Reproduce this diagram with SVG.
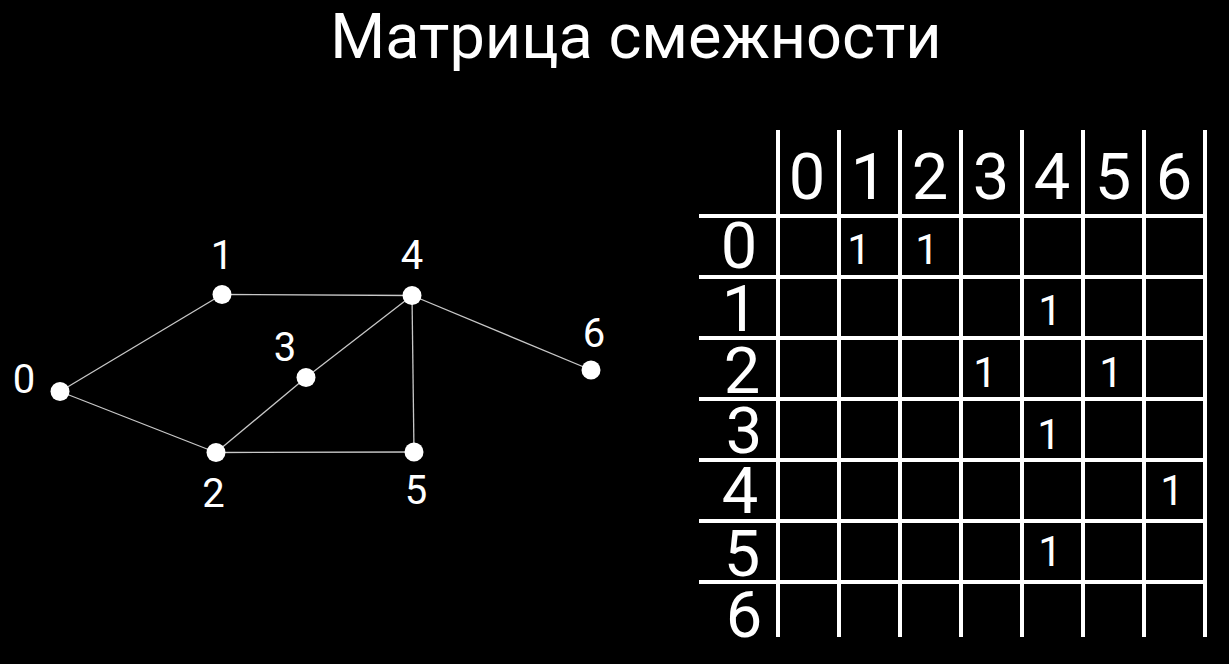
<svg xmlns="http://www.w3.org/2000/svg" width="1229" height="664" viewBox="0 0 1229 664">
<style>
text{font-family:Roboto,"Liberation Sans",sans-serif;fill:#fff}
.title{font-size:63px;text-anchor:middle}
.lbl{font-size:40px;text-anchor:middle}
.hd{font-size:65px;text-anchor:middle}
.one{font-size:42px;text-anchor:middle}
.edge{stroke:#c8c8c8;stroke-width:1.3;fill:none}
.grid{stroke:#fff;stroke-width:4;fill:none}
.node{fill:#fff}
</style>
<rect width="1229" height="664" fill="#000"/>
<text class="title" x="636" y="58">Матрица смежности</text>
<g id="connectors">
<line class="edge" x1="60" y1="391.5" x2="222" y2="294.5"/>
<line class="edge" x1="60" y1="391.5" x2="216" y2="452.5"/>
<line class="edge" x1="222" y1="294.5" x2="412" y2="295.5"/>
<line class="edge" x1="216" y1="452.5" x2="306" y2="377.5"/>
<line class="edge" x1="306" y1="377.5" x2="412" y2="295.5"/>
<line class="edge" x1="216" y1="452.5" x2="414" y2="452"/>
<line class="edge" x1="412" y1="295.5" x2="414" y2="452"/>
<line class="edge" x1="412" y1="295.5" x2="591" y2="370"/>
</g>
<g id="node0"><circle class="node" cx="60" cy="391.5" r="9.5"/><text class="lbl" x="24" y="393">0</text></g>
<g id="node1"><circle class="node" cx="222" cy="294.5" r="9.5"/><text class="lbl" x="222" y="269">1</text></g>
<g id="node2"><circle class="node" cx="216" cy="452.5" r="9.5"/><text class="lbl" x="213.5" y="507">2</text></g>
<g id="node3"><circle class="node" cx="306" cy="377.5" r="9.5"/><text class="lbl" x="285" y="361">3</text></g>
<g id="node4"><circle class="node" cx="412" cy="295.5" r="9.5"/><text class="lbl" x="412" y="269">4</text></g>
<g id="node5"><circle class="node" cx="414" cy="452" r="9.5"/><text class="lbl" x="416" y="504">5</text></g>
<g id="node6"><circle class="node" cx="591" cy="370" r="9.5"/><text class="lbl" x="594" y="347">6</text></g>
<g id="matrix">
<g class="grid">
<line x1="778" y1="130" x2="778" y2="637"/>
<line x1="839" y1="130" x2="839" y2="637"/>
<line x1="900" y1="130" x2="900" y2="637"/>
<line x1="961" y1="130" x2="961" y2="637"/>
<line x1="1022" y1="130" x2="1022" y2="637"/>
<line x1="1083" y1="130" x2="1083" y2="637"/>
<line x1="1144" y1="130" x2="1144" y2="637"/>
<line x1="1205" y1="130" x2="1205" y2="637"/>
<line x1="699" y1="216" x2="1205" y2="216"/>
<line x1="699" y1="277" x2="1205" y2="277"/>
<line x1="699" y1="338" x2="1205" y2="338"/>
<line x1="699" y1="399" x2="1205" y2="399"/>
<line x1="699" y1="460" x2="1205" y2="460"/>
<line x1="699" y1="521" x2="1205" y2="521"/>
<line x1="699" y1="582" x2="1205" y2="582"/>
</g>
<g>
<text class="hd" x="807" y="199">0</text>
<text class="hd" x="869" y="199">1</text>
<text class="hd" x="930" y="199">2</text>
<text class="hd" x="991" y="199">3</text>
<text class="hd" x="1052" y="199">4</text>
<text class="hd" x="1113" y="199">5</text>
<text class="hd" x="1174" y="199">6</text>
</g>
<g>
<text class="hd" x="739" y="268">0</text>
<text class="hd" x="740" y="331">1</text>
<text class="hd" x="742" y="393">2</text>
<text class="hd" x="744" y="453">3</text>
<text class="hd" x="740" y="513">4</text>
<text class="hd" x="742" y="576">5</text>
<text class="hd" x="744" y="637">6</text>
</g>
<g>
<text class="one" x="859" y="264">1</text>
<text class="one" x="927" y="264">1</text>
<text class="one" x="1050" y="325">1</text>
<text class="one" x="985" y="387">1</text>
<text class="one" x="1111" y="387">1</text>
<text class="one" x="1049" y="449">1</text>
<text class="one" x="1172" y="505">1</text>
<text class="one" x="1050" y="566">1</text>
</g>
</g>
</svg>
